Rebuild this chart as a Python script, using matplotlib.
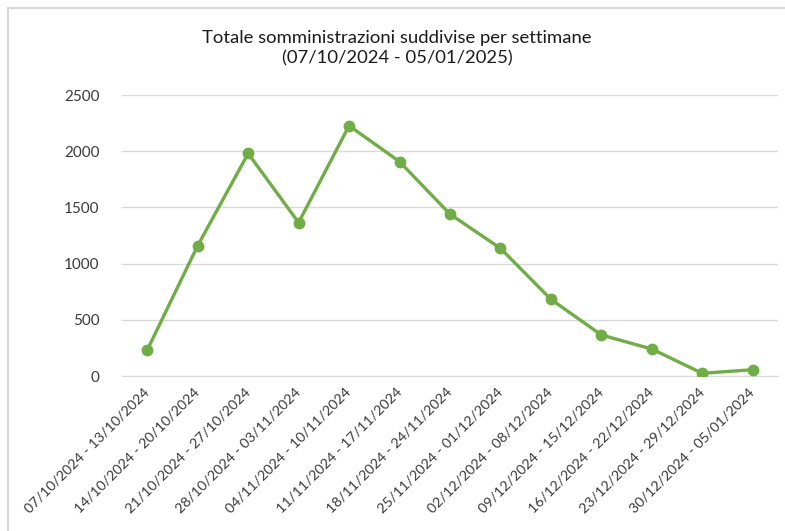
import matplotlib
matplotlib.use("Agg")
import matplotlib.pyplot as plt
from matplotlib.patches import Rectangle

weeks = [
    "07/10/2024 - 13/10/2024",
    "14/10/2024 - 20/10/2024",
    "21/10/2024 - 27/10/2024",
    "28/10/2024 - 03/11/2024",
    "04/11/2024 - 10/11/2024",
    "11/11/2024 - 17/11/2024",
    "18/11/2024 - 24/11/2024",
    "25/11/2024 - 01/12/2024",
    "02/12/2024 - 08/12/2024",
    "09/12/2024 - 15/12/2024",
    "16/12/2024 - 22/12/2024",
    "23/12/2024 - 29/12/2024",
    "30/12/2024 - 05/01/2024",
]
values = [231, 1160, 1980, 1365, 2227, 1907, 1440, 1136, 682, 365, 240, 24, 56]
yticks = [0, 500, 1000, 1500, 2000, 2500]

plt.rcParams['font.family'] = ['Lato', 'DejaVu Sans']
W, H = 785, 531
fig = plt.figure(figsize=(W/100, H/100), dpi=100)
fig.patches.append(Rectangle((8/W, -0.1), 1.2, (H-8)/H + 0.1, transform=fig.transFigure,
                             fill=False, edgecolor='#D9D9D9', linewidth=1.5))

ax = fig.add_axes([122/W, (H-376)/H, (778-122)/W, (376-95)/H])
x = list(range(len(weeks)))
ax.plot(x, values, color='#70AD47', linewidth=2.4, marker='o', markersize=7.5, zorder=3)
ax.set_xlim(-0.5, len(weeks)-0.5)
ax.set_ylim(0, 2500)
ax.set_yticks(yticks)
ax.set_yticklabels([str(v) for v in yticks])
ax.grid(axis='y', color='#D9D9D9', linewidth=1)
ax.set_axisbelow(True)
for s in ['top', 'right', 'left']:
    ax.spines[s].set_visible(False)
ax.spines['bottom'].set_color('#D9D9D9')
ax.tick_params(axis='both', length=0, colors='#3a3a3a')
ax.tick_params(axis='y', pad=16, labelsize=11)
ax.set_xticks(x)
ax.set_xticklabels(weeks, rotation=45, ha='right', va='center', rotation_mode='anchor')
ax.tick_params(axis='x', pad=10, labelsize=10.3)

fig.text(397/W, 1 - 48.5/H, "Totale somministrazioni suddivise per settimane\n(07/10/2024 - 05/01/2025)",
         ha='center', va='center', fontsize=13.3, color='#1a1a1a', linespacing=1.35)

fig.savefig("out.png", dpi=100, facecolor='white')
